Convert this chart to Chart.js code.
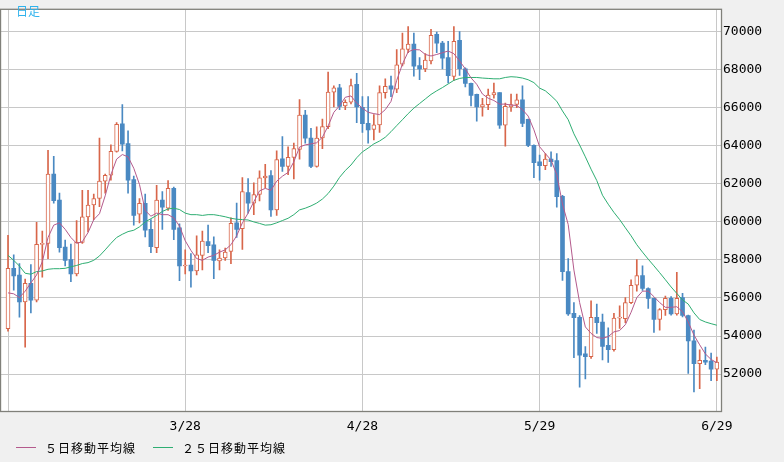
<!DOCTYPE html>
<html lang="ja">
<head>
<meta charset="utf-8">
<title>日足</title>
<script src="https://cdn.jsdelivr.net/npm/chart.js@4.4.1/dist/chart.umd.min.js"></script>
<style>
  html, body { margin: 0; padding: 0; background: #f0f0f0; }
  canvas { display: block; }
</style>
</head>
<body>
<canvas id="myChart" width="784" height="462"></canvas>
<script>
// one candle per calendar day, 2/25 .. 6/29
const opens = [
  54390,57560,57200,55800,56770,55880,58820,58870,62510,61150,
  58680,58020,57270,58920,60260,60890,61230,62140,62450,63710,
  65160,64120,62220,60410,60980,59610,58650,61150,60720,61760,
  59690,57680,57730,57420,58240,58960,58790,57950,58100,58450,
  59950,59650,61540,60990,61440,62310,62430,60630,63320,62910,
  63390,63810,65610,64410,62910,64410,65010,66820,67040,66100,
  66290,67230,66020,65180,64860,65100,66790,67150,66980,68290,
  69060,69350,68210,68040,68460,69860,69400,68630,67640,69540,
  68050,67280,66700,66040,66160,66670,66790,65080,66040,66170,
  66410,65390,64020,63160,62960,63300,63220,61340,57390,55200,
  54990,53060,52910,54990,54740,53510,53280,54940,54910,55760,
  56670,57180,56500,55980,54870,55390,55980,55160,56020,55080,
  53750,52550,52720,52690,52260
];
const highs = [
  59300,58270,57810,56990,57760,59980,59520,63760,63450,61510,
  59040,58840,60070,61660,61660,61460,64410,62510,64050,65220,
  66160,64790,62410,61230,61460,60120,61920,61590,62170,61830,
  59900,58530,58330,59270,59520,59830,59210,58530,58630,60210,
  60990,62330,62270,62050,62690,63030,62700,63730,64480,63950,
  64140,66430,65860,64920,64990,65400,67880,67150,67230,66410,
  67510,67810,66580,66580,65640,67150,67520,67660,69060,69920,
  70260,69920,68630,68840,70120,69970,69490,69490,70260,70000,
  68100,67300,66720,66500,66980,67300,66800,66240,66720,66720,
  67150,65400,64050,63510,63590,63680,63590,61400,58070,55760,
  55080,53450,55850,55680,55160,54430,55200,55590,56020,56960,
  58020,57690,56530,56000,55450,56100,56070,57350,56240,55100,
  54310,53280,53420,53110,52890
];
const lows = [
  54260,56410,54990,53420,55220,55800,57100,58070,60990,58410,
  57680,56860,57160,58870,59470,60120,60800,61510,62190,63660,
  63730,61510,59830,59950,59210,58380,58380,59610,60600,59060,
  56910,57270,56570,57210,57470,58380,57010,57470,57980,57810,
  59180,58550,60460,60380,61100,61800,60290,60340,62650,62480,
  62260,63300,64140,62850,62870,63850,64900,66040,65900,65900,
  66200,65220,64700,64140,64310,64700,66500,66580,66790,68200,
  68900,67660,67470,67900,68300,68900,68040,67300,67440,67700,
  67100,66090,65300,65560,65900,66500,64910,63980,65800,66000,
  65000,63950,62330,62190,62740,62910,60770,56920,55080,52860,
  51320,51750,52820,54140,52740,52620,53200,54400,54700,55700,
  56360,56400,55450,54190,54310,55080,55100,55100,55000,52040,
  51060,51230,52500,51660,51660
];
const closes = [
  57560,57160,55800,56770,55880,58820,58850,62510,61110,58650,
  57980,57270,58920,60260,60890,61230,62140,62450,63710,65130,
  64090,62190,60340,60980,59570,58700,61150,60780,61760,59610,
  57680,57710,57420,58270,58990,58750,57980,58100,58410,59920,
  59610,61590,60990,61440,62310,62410,60630,63280,62910,63390,
  63850,65610,64400,62910,64410,65010,66820,67040,66070,66290,
  67160,66040,65160,64840,65100,66790,67130,66980,68260,69090,
  69350,68190,68040,68510,69800,69390,68600,67680,69490,68050,
  67280,66650,66040,66160,66670,66790,65080,66070,66160,66410,
  65180,64020,63110,62960,63300,63160,61320,57390,55160,54960,
  52990,52910,54990,54700,53450,53280,54940,54990,55760,56670,
  57180,56500,55980,54870,55390,55980,55160,55980,55080,53750,
  52550,52720,52630,52260,52630
];
const ma5 = [
  56270,56220,56020,56360,56790,57210,57900,59180,59830,59950,
  59610,59180,58870,58960,59440,60120,60430,61370,62480,63300,
  63540,63420,62820,61970,60600,60300,60460,60380,60380,60210,
  59780,59010,58500,58070,57980,58150,58240,58410,58530,58800,
  59270,59950,60460,61060,61630,61760,61660,62140,62400,62600,
  63160,63930,64050,64100,64160,64450,65040,65760,66100,66550,
  66620,66240,65980,65760,65690,65640,65900,66330,67440,68290,
  68940,69060,69040,68800,68720,68800,68890,68980,68840,68460,
  68040,67570,67230,66720,66500,66380,66190,66190,66140,66120,
  65900,65560,64840,63950,63590,63250,62480,60940,59860,57470,
  55760,54480,54140,53920,53880,53970,54220,54290,54600,55250,
  56020,56360,56360,56070,55760,55510,55510,55540,55280,54740,
  54050,53540,53060,52770,52600
];
const ma25 = [
  58240,57980,57680,57300,57250,57390,57420,57510,57540,57540,
  57560,57640,57710,57810,57860,57980,58210,58530,58870,59180,
  59350,59490,59560,59740,60000,60170,60340,60550,60680,60720,
  60650,60460,60380,60380,60340,60380,60380,60330,60270,60190,
  60140,60120,60100,60000,59920,59830,59850,59950,60070,60190,
  60380,60630,60720,60840,60990,61200,61490,61880,62340,62700,
  62990,63370,63680,63880,64100,64250,64450,64740,65060,65370,
  65690,65980,66220,66460,66700,66890,67060,67250,67440,67540,
  67590,67590,67590,67560,67540,67520,67520,67590,67630,67610,
  67560,67470,67320,67030,66890,66630,66340,65830,65370,64630,
  64040,63420,62770,62170,61400,60930,60500,60120,59690,59270,
  58800,58410,58040,57690,57330,56960,56580,56240,55900,55680,
  55220,54870,54740,54650,54570
];
const tickDays = [0, 31, 62, 93, 124];
const tickLabels = ["", "3/28", "4/28", "5/29", "6/29"];
const priceTicks = [52000, 54000, 56000, 58000, 60000, 62000, 64000, 66000, 68000, 70000];

const UP = "#d8664a";
const DOWN = "#4a89c2";
const MA5_COLOR = "#b45a8c";
const MA25_COLOR = "#2eae72";
const AXIS_FONT = { family: '"DejaVu Sans Mono", monospace', size: 13 };

const days = closes.map((c, i) => i);
const isUp = (i) => closes[i] >= opens[i];

const overlay = {
  id: "overlay",
  beforeDraw(chart) {
    const { ctx, chartArea: a } = chart;
    ctx.save();
    ctx.fillStyle = "#f0f0f0";
    ctx.fillRect(0, 0, chart.width, chart.height);
    ctx.fillStyle = "#ffffff";
    ctx.fillRect(a.left, a.top, a.right - a.left, a.bottom - a.top);
    ctx.restore();
  },
  afterDraw(chart) {
    const { ctx, chartArea: a } = chart;
    ctx.save();
    // frame
    ctx.strokeStyle = "#80807a";
    ctx.lineWidth = 1.3;
    ctx.strokeRect(a.left - 0.5, a.top - 0.5, a.right - a.left + 1, a.bottom - a.top + 1);

    // title
    ctx.fillStyle = "#2fb2ec";
    ctx.font = '12px "Noto Sans CJK JP"';
    ctx.letterSpacing = "0px";
    ctx.textBaseline = "middle";
    ctx.fillText("日足", 16, 11);

    // legend
    ctx.font = '12px "Noto Sans CJK JP"';
    ctx.letterSpacing = "1px";
    ctx.lineWidth = 1;
    const items = [
      { ds: chart.data.datasets[0], x: 16 },
      { ds: chart.data.datasets[1], x: 153 },
    ];
    items.forEach(({ ds, x }) => {
      ctx.strokeStyle = ds.borderColor;
      ctx.beginPath();
      ctx.moveTo(x, 447.5);
      ctx.lineTo(x + 20, 447.5);
      ctx.stroke();
      ctx.fillStyle = "#000";
      ctx.fillText(ds.label, x + 29, 448);
    });
    ctx.restore();
  },
};

const setupChart = () => {
  const ctx = document.getElementById("myChart");

  const data = {
    datasets: [
      {
        type: "line",
        label: "５日移動平均線",
        data: days.map((i) => ({ x: i, y: ma5[i] })),
        borderColor: MA5_COLOR,
        borderWidth: 1,
        pointRadius: 0,
        tension: 0,
      },
      {
        type: "line",
        label: "２５日移動平均線",
        data: days.map((i) => ({ x: i, y: ma25[i] })),
        borderColor: MA25_COLOR,
        borderWidth: 1,
        pointRadius: 0,
        tension: 0,
      },
      {
        type: "bar",
        label: "body",
        data: days.map((i) => ({ x: i, y: [opens[i], closes[i]] })),
        backgroundColor: (c) => (isUp(c.dataIndex) ? "#ffffff" : DOWN),
        borderColor: (c) => (isUp(c.dataIndex) ? UP : DOWN),
        borderWidth: (c) => (isUp(c.dataIndex) ? 1 : 0),
        borderSkipped: false,
        barThickness: 4,
        minBarLength: 1,
        grouped: false,
      },
      {
        type: "bar",
        label: "wick",
        data: days.map((i) => ({ x: i, y: [lows[i], highs[i]] })),
        backgroundColor: (c) => (isUp(c.dataIndex) ? UP : DOWN),
        barThickness: 1,
        grouped: false,
      },
    ],
  };

  const chart = new Chart(ctx, {
    type: "line",
    data: data,
    plugins: [overlay],
    options: {
      responsive: false,
      animation: false,
      events: [],
      layout: { padding: { left: 1, top: 1, right: 0, bottom: 0 } },
      plugins: {
        legend: { display: false },
        tooltip: { enabled: false },
      },
      scales: {
        x: {
          type: "linear",
          min: -1.22,
          max: 124.73,
          offset: false,
          grid: { color: "#c8c8c8", offset: false, drawTicks: false },
          border: { display: false },
          afterBuildTicks: (s) => {
            s.ticks = tickDays.map((v) => ({ value: v }));
          },
          afterFit: (s) => {
            s.height = 51;
          },
          ticks: {
            autoSkip: false,
            maxRotation: 0,
            padding: 8,
            color: "#000",
            font: AXIS_FONT,
            callback: (v, i) => tickLabels[i],
          },
        },
        y: {
          type: "linear",
          position: "right",
          min: 50061,
          max: 71147,
          grid: { color: "#c8c8c8", drawTicks: false },
          border: { display: false },
          afterBuildTicks: (s) => {
            s.ticks = priceTicks.map((v) => ({ value: v }));
          },
          afterFit: (s) => {
            s.width = 63;
          },
          ticks: {
            padding: 2,
            color: "#000",
            font: AXIS_FONT,
            callback: (v) => `${v}`,
          },
        },
      },
    },
  });
  return chart;
};

setupChart();
</script>
</body>
</html>
